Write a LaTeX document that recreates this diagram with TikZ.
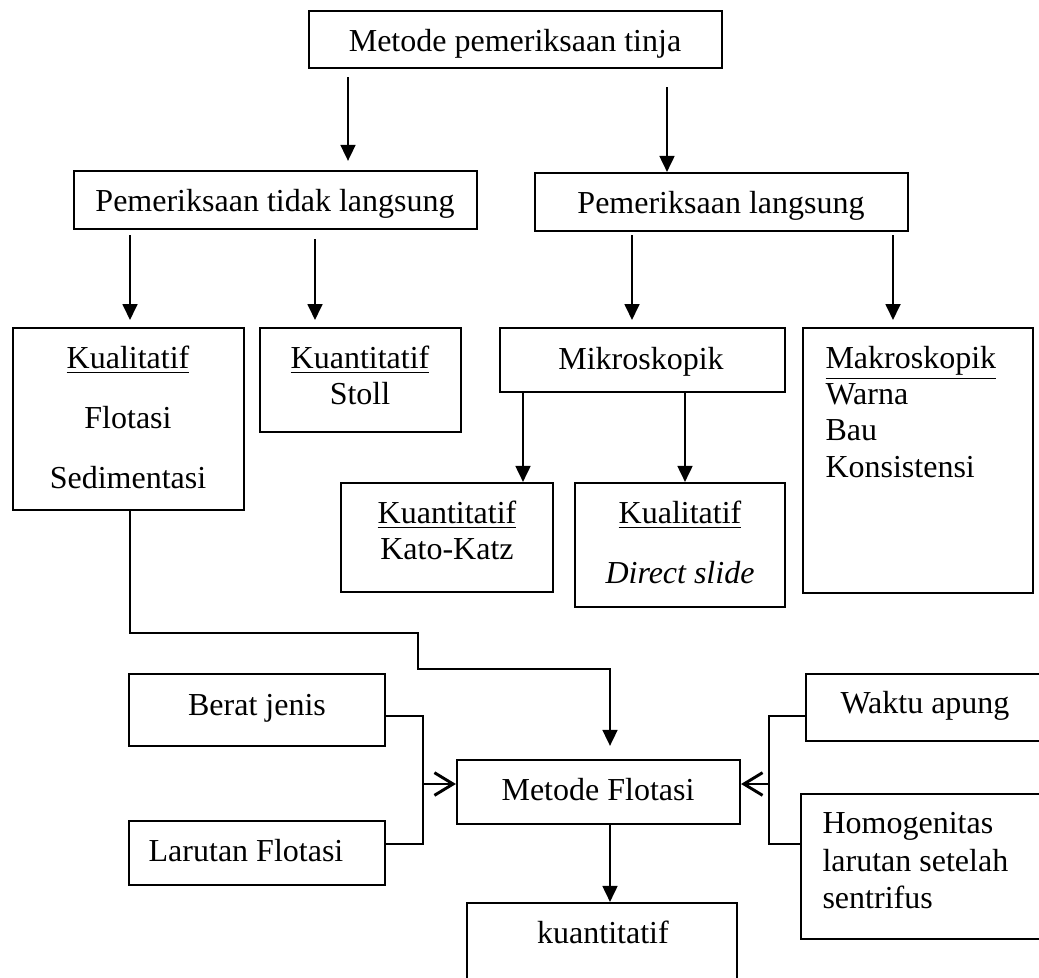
\documentclass[tikz,border=0pt]{standalone}
\usepackage{fontspec}
\setmainfont{Liberation Serif}
\usetikzlibrary{arrows.meta,fit}
\begin{document}
\begin{tikzpicture}[x=0.375pt,y=-0.375pt,
  box/.style={draw, line width=0.8pt, inner sep=0pt},
  txt/.style={inner sep=0pt, font=\fontsize{12}{14}\selectfont},
  arr/.style={line width=0.75pt, -{Triangle[length=6pt,width=5.6pt]}},
  plain/.style={line width=0.75pt},
  bline/.style={line width=1.1pt},
  oarr/.style={line width=1.1pt, -{Straight Barb[length=7pt,width=8.5pt]}}]
\useasboundingbox (0,0) rectangle (1039,978);
\clip (0,0) rectangle (1039,978);
% helper coordinates
\coordinate (x130) at (130,0);
\coordinate (x315) at (315,0);
\coordinate (x348) at (348,0);
\coordinate (x418) at (418,0);
\coordinate (x423) at (423,0);
\coordinate (x523) at (523,0);
\coordinate (x610) at (610,0);
\coordinate (x632) at (632,0);
\coordinate (x667) at (667,0);
\coordinate (x685) at (685,0);
\coordinate (x769) at (769,0);
\coordinate (x893) at (893,0);
\coordinate (y633) at (0,633);
\coordinate (y669) at (0,669);
\coordinate (y716) at (0,716);
\coordinate (y784) at (0,784);
\coordinate (y844) at (0,844);
% boxes
\node[box, fit={(309,11) (722,68)}] (top) {};
\node[box, fit={(74,171) (477,229)}] (ptl) {};
\node[box, fit={(535,173) (908,231)}] (pl) {};
\node[box, fit={(13,328) (244,510)}] (kual) {};
\node[box, fit={(260,328) (461,432)}] (stoll) {};
\node[box, fit={(500,328) (785,392)}] (mikro) {};
\node[box, fit={(803,328) (1033,593)}] (makro) {};
\node[box, fit={(341,483) (553,592)}] (kato) {};
\node[box, fit={(575,483) (785,607)}] (direct) {};
\node[box, fit={(129,674) (385,746)}] (berat) {};
\node[box, fit={(129,821) (385,885)}] (larut) {};
\node[box, fit={(457,760) (740,824)}] (flot) {};
\node[box, fit={(467,903) (737,1000)}] (kuant) {};
\node[box, fit={(806,674) (1060,741)}] (waktu) {};
\node[box, fit={(801,794) (1060,939)}] (homog) {};
% texts
\node[txt, anchor=base] (t1) at (515,52) {Metode pemeriksaan tinja};
\node[txt, anchor=base] (t2) at (275,211) {Pemeriksaan tidak langsung};
\node[txt, anchor=base] (t3) at (721,213) {Pemeriksaan langsung};
\node[txt, anchor=base] (t4a) at (128,368) {\underline{Kualitatif}};
\node[txt, anchor=base] (t4b) at (128,428) {Flotasi};
\node[txt, anchor=base] (t4c) at (128,488) {Sedimentasi};
\node[txt, anchor=base] (t5a) at (360,368) {\underline{Kuantitatif}};
\node[txt, anchor=base] (t5b) at (360,404) {Stoll};
\node[txt, anchor=base] (t6) at (641,369) {Mikroskopik};
\node[txt, anchor=base west] (t7a) at (825,368) {\underline{Makroskopik}};
\node[txt, anchor=base west] (t7b) at (825,404) {Warna};
\node[txt, anchor=base west] (t7c) at (825,440) {Bau};
\node[txt, anchor=base west] (t7d) at (825,477) {Konsistensi};
\node[txt, anchor=base] (t8a) at (447,523) {\underline{Kuantitatif}};
\node[txt, anchor=base] (t8b) at (447,559) {Kato-Katz};
\node[txt, anchor=base] (t9a) at (680,523) {\underline{Kualitatif}};
\node[txt, anchor=base] (t9b) at (680,583) {\textit{Direct slide}};
\node[txt, anchor=base] (t10) at (257,715) {Berat jenis};
\node[txt, anchor=base] (t11) at (246,861) {Larutan Flotasi};
\node[txt, anchor=base] (t12) at (598,800) {Metode Flotasi};
\node[txt, anchor=base] (t13) at (603,943) {kuantitatif};
\node[txt, anchor=base] (t14) at (925,713) {Waktu apung};
\node[txt, anchor=base west] (t15a) at (822,833) {Homogenitas};
\node[txt, anchor=base west] (t15b) at (822,871) {larutan setelah};
\node[txt, anchor=base west] (t15c) at (822,908) {sentrifus};
% connectors
\draw[arr, shorten <=3pt, shorten >=3.4pt] (top.south -| x348) -- (ptl.north -| x348);
\draw[arr, shorten <=6.75pt] (top.south -| x667) -- (pl.north -| x667);
\draw[arr, shorten <=1.9pt, shorten >=2.6pt] (ptl.south -| x130) -- (kual.north -| x130);
\draw[arr, shorten <=3.4pt, shorten >=2.6pt] (ptl.south -| x315) -- (stoll.north -| x315);
\draw[arr, shorten <=1.1pt, shorten >=2.6pt] (pl.south -| x632) -- (mikro.north -| x632);
\draw[arr, shorten <=1.1pt, shorten >=2.6pt] (pl.south -| x893) -- (makro.north -| x893);
\draw[arr] (mikro.south -| x523) -- (kato.north -| x523);
\draw[arr] (mikro.south -| x685) -- (direct.north -| x685);
\draw[arr, shorten >=4.9pt] (kual.south -| x130) -- (x130 |- y633) -- (x418 |- y633)
  -- (x418 |- y669) -- (x610 |- y669) -- (flot.north -| x610);
\draw[bline] (berat.east |- y716) -- (x423 |- y716) -- (x423 |- y844) -- (larut.east |- y844);
\draw[oarr] (x423 |- y784) -- (flot.west |- y784);
\draw[bline] (waktu.west |- y716) -- (x769 |- y716) -- (x769 |- y844) -- (homog.west |- y844);
\draw[oarr] (x769 |- y784) -- (flot.east |- y784);
\draw[arr] (flot.south -| x610) -- (kuant.north -| x610);
\end{tikzpicture}
\end{document}
